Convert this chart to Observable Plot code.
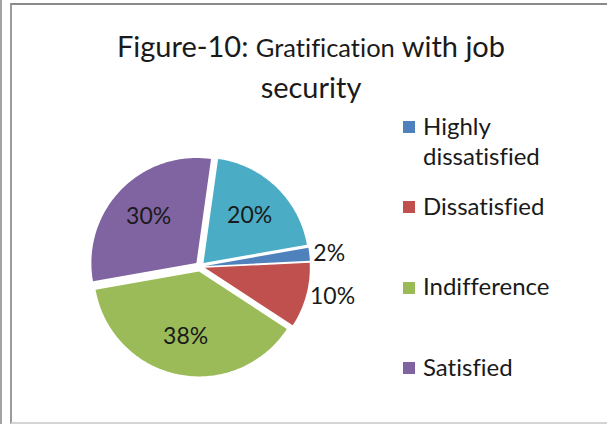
<!DOCTYPE html>
<html>
<head>
<meta charset="utf-8">
<script src="https://cdn.jsdelivr.net/npm/d3@7"></script>
<script src="https://cdn.jsdelivr.net/npm/@observablehq/plot@0.6"></script>
<style>
  body { margin: 0; background: #fff; }
  #wrap { position: relative; width: 607px; height: 424px; overflow: hidden; background: #fff;
          font-family: Lato, "Open Sans", sans-serif; color: #1a1a1a;
          font-variant-ligatures: none; font-feature-settings: "liga" 0, "clig" 0; }
  #wrap svg { position: absolute; left: 0; top: 0; background: transparent; }
  .strip { position: absolute; left: 0; top: 0; width: 2px; height: 424px; background: #a3a3a3; }
  .frame { position: absolute; left: 10px; top: 3px; width: 620px; height: 417px;
           border-left: 2px solid #9b9b9b; border-top: 2px solid #8a8a8a; border-bottom: 2px solid #d4d4d4; }
  #title { position: absolute; left: 0; width: 622px; top: 26px; text-align: center;
           line-height: 39px; font-size: 29px; color: #1a1a1a; white-space: nowrap; }
  #title .small { font-size: 25.5px; }
  #legend { position: absolute; left: 403px; top: 110.7px; }
  .item { position: relative; height: 80.3px; }
  .sw { position: absolute; left: 0; top: 10.3px; width: 12px; height: 12px; }
  .lab { position: absolute; left: 20px; top: 0; width: 150px; font-size: 24px; line-height: 30px; color: #1a1a1a; }
</style>
</head>
<body>
<div id="wrap"></div>
<script>
const categories = ["Highly dissatisfied", "Dissatisfied", "Indifference", "Satisfied", "Highly satisfied"];
const percents   = [2, 10, 38, 30, 20];
const labels     = ["2%", "10%", "38%", "30%", "20%"];
const colors     = ["#4F81BD", "#C0504D", "#9BBB59", "#8064A2", "#4BACC6"];
const legendShown = 4; // the fifth legend entry is cut off in the original

const R = 105;            // radius in px
const cx = 199.5, cy = 266;
const explode = 5 / R;    // slice explosion (unit radius)
const startDeg = 80;

const arcs = d3.pie().sort(null)
  .startAngle(startDeg * Math.PI / 180)
  .endAngle((startDeg + 360) * Math.PI / 180)(percents);

const poly = [];
const lab = [];
arcs.forEach((a, i) => {
  const mid = (a.startAngle + a.endAngle) / 2;
  const ox = explode * Math.sin(mid), oy = explode * Math.cos(mid);
  poly.push({cat: categories[i], x: ox, y: oy});
  const n = Math.max(4, Math.ceil((a.endAngle - a.startAngle) / (Math.PI / 180)));
  for (let k = 0; k <= n; k++) {
    const t = a.startAngle + (a.endAngle - a.startAngle) * k / n;
    poly.push({cat: categories[i], x: ox + Math.sin(t), y: oy + Math.cos(t)});
  }
  const outside = percents[i] < 15;
  const r = outside ? 1 + explode + 4 / R : 0.68;
  lab.push({text: labels[i], outside, x: r * Math.sin(mid), y: r * Math.cos(mid)});
});

const chart = Plot.plot({
  width: 607, height: 424, margin: 0,
  style: {background: "transparent", fontFamily: "Lato, 'Open Sans', sans-serif"},
  x: {domain: [-cx / R, (607 - cx) / R], axis: null},
  y: {domain: [(cy - 424) / R, cy / R], axis: null},
  color: {domain: categories, range: colors},
  marks: [
    Plot.line(poly, {x: "x", y: "y", z: "cat", fill: "cat", stroke: "none", curve: "linear-closed"}),
    Plot.text(lab.filter(d => !d.outside), {x: "x", y: "y", text: "text", fontSize: 23, fill: "#1a1a1a", textAnchor: "middle"}),
    Plot.text(lab.filter(d => d.outside), {x: "x", y: "y", text: "text", fontSize: 23, fill: "#1a1a1a", textAnchor: "start"})
  ]
});

const wrap = document.getElementById("wrap");
wrap.appendChild(chart);
wrap.insertAdjacentHTML("beforeend", `<div class="strip"></div><div class="frame"></div>
<div id="title">Figure-10: <span class="small">Gratification</span> with job<br>security</div>`);
const legend = document.createElement("div");
legend.id = "legend";
categories.slice(0, legendShown).forEach((c, i) => {
  const it = document.createElement("div");
  it.className = "item";
  it.innerHTML = `<span class="sw" style="background:${colors[i]}"></span><span class="lab">${c}</span>`;
  legend.appendChild(it);
});
wrap.appendChild(legend);
</script>
</body>
</html>
